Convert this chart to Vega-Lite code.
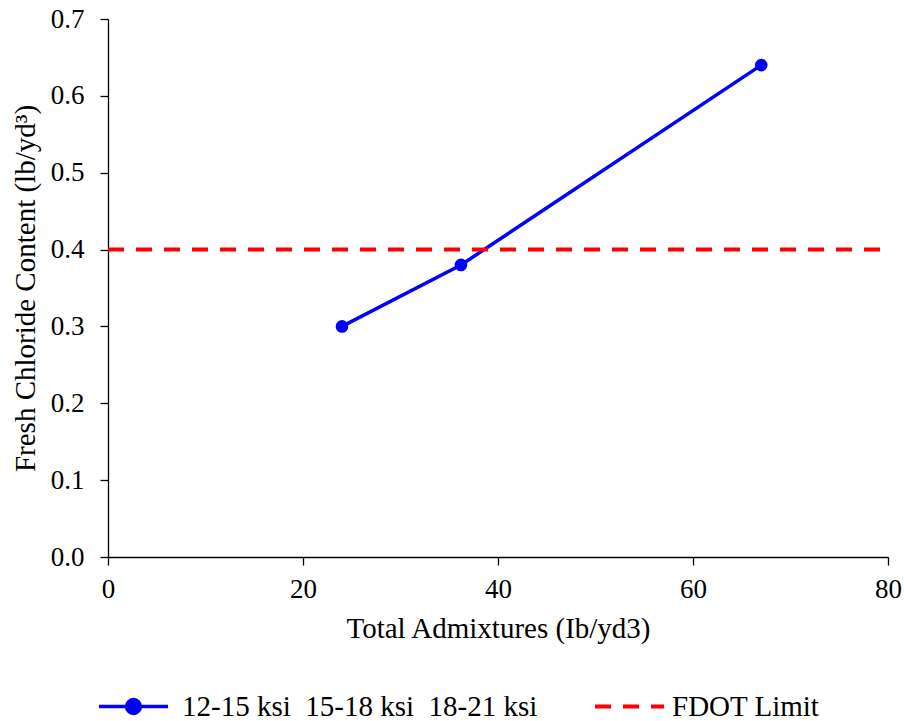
{
  "$schema": "https://vega.github.io/schema/vega-lite/v6.json",
  "width": 780,
  "height": 538,
  "autosize": {"type": "none"},
  "padding": {"left": 108, "top": 19, "right": 16, "bottom": 164},
  "background": "white",
  "config": {
    "view": {"stroke": null},
    "font": "Liberation Serif",
    "axis": {
      "domainColor": "#000000",
      "domainWidth": 1.3,
      "tickColor": "#000000",
      "tickWidth": 1.3,
      "tickSize": 8,
      "grid": false,
      "labelFont": "Liberation Serif",
      "labelFontSize": 27,
      "labelColor": "#000000",
      "labelFlush": false,
      "titleFont": "Liberation Serif",
      "titleFontSize": 29,
      "titleFontWeight": "normal",
      "titleColor": "#000000"
    },
    "legend": {
      "labelFont": "Liberation Serif",
      "labelFontSize": 29,
      "labelColor": "#000000",
      "labelLimit": 0,
      "padding": 0,
      "titlePadding": 0
    }
  },
  "datasets": {
    "series": [
      {"admix": 24.0, "chloride": 0.30, "group": "12-15 ksi\u00a0 15-18 ksi\u00a0 18-21 ksi"},
      {"admix": 36.2, "chloride": 0.38, "group": "12-15 ksi\u00a0 15-18 ksi\u00a0 18-21 ksi"},
      {"admix": 67.0, "chloride": 0.64, "group": "12-15 ksi\u00a0 15-18 ksi\u00a0 18-21 ksi"}
    ],
    "limit": [
      {"admix": 0, "chloride": 0.4, "group": "FDOT Limit"},
      {"admix": 80, "chloride": 0.4, "group": "FDOT Limit"}
    ]
  },
  "layer": [
    {
      "data": {"name": "series"},
      "mark": {"type": "line", "strokeWidth": 3.5, "point": {"filled": true, "size": 160, "opacity": 1}},
      "encoding": {
        "x": {
          "field": "admix", "type": "quantitative",
          "scale": {"domain": [0, 80], "nice": false, "zero": true},
          "axis": {"values": [0, 20, 40, 60, 80], "title": "Total Admixtures (Ib/yd3)", "labelPadding": 11, "titlePadding": 12}
        },
        "y": {
          "field": "chloride", "type": "quantitative",
          "scale": {"domain": [0, 0.7], "nice": false},
          "axis": {"values": [0, 0.1, 0.2, 0.3, 0.4, 0.5, 0.6, 0.7], "format": ".1f", "title": "Fresh Chloride Content (lb/yd³)", "labelPadding": 16, "titlePadding": 10}
        },
        "color": {
          "field": "group", "type": "nominal",
          "scale": {"range": ["#0000FF"]},
          "legend": {
            "title": null,
            "orient": "none",
            "legendX": -11,
            "legendY": 651,
            "symbolType": "M-1,0L1,0M0.2,0A0.2,0.2,0,1,1,-0.2,0A0.2,0.2,0,1,1,0.2,0Z",
            "symbolSize": 4761,
            "symbolStrokeWidth": 3.5,
            "symbolFillColor": "#0000FF",
            "symbolStrokeColor": "#0000FF",
            "labelOffset": 12,
            "encode": {"symbols": {"update": {"fill": {"value": "#0000FF"}, "stroke": {"value": "#0000FF"}, "opacity": {"value": 1}}}}
          }
        }
      }
    },
    {
      "data": {"name": "limit"},
      "mark": {"type": "line", "color": "#FF0000", "strokeWidth": 4},
      "encoding": {
        "x": {"field": "admix", "type": "quantitative"},
        "y": {"field": "chloride", "type": "quantitative"},
        "strokeDash": {
          "field": "group", "type": "nominal",
          "scale": {"range": [[16, 12]]},
          "legend": {
            "title": null,
            "orient": "none",
            "legendX": 485,
            "legendY": 651,
            "symbolType": "stroke",
            "symbolSize": 4761,
            "symbolStrokeWidth": 4,
            "symbolStrokeColor": "#FF0000",
            "labelOffset": 6
          }
        }
      }
    }
  ]
}
